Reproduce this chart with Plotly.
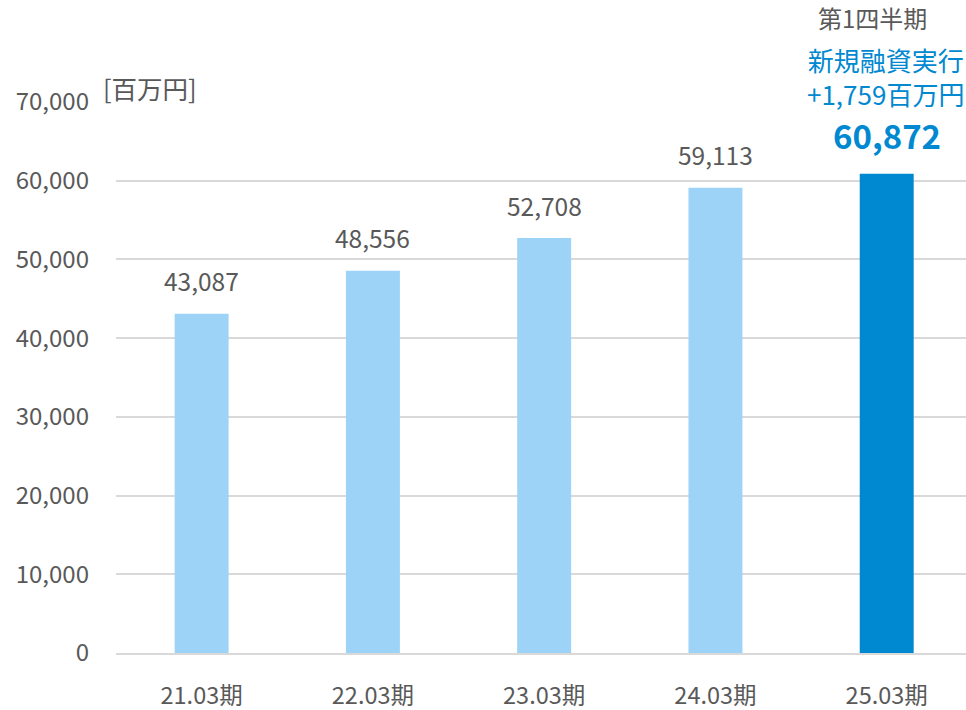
import plotly.graph_objects as go

# Loan balance by fiscal period (millions of yen)
periods = ["21.03期", "22.03期", "23.03期", "24.03期", "25.03期"]
balances = [43087, 48556, 52708, 59113, 60872]
bar_colors = ["#9DD3F7", "#9DD3F7", "#9DD3F7", "#9DD3F7", "#0088D0"]
y_ticks = [0, 10000, 20000, 30000, 40000, 50000, 60000, 70000]

FONT = "Noto Sans CJK JP"
GRAY = "#595959"
BLUE = "#0088D0"

fig = go.Figure()
fig.add_trace(go.Bar(
    x=periods,
    y=balances,
    marker=dict(color=bar_colors, line=dict(width=0)),
    width=0.315,
    hoverinfo="skip",
))

annotations = []
for i, (p, v) in enumerate(zip(periods, balances)):
    last = i == len(periods) - 1
    annotations.append(dict(
        x=p, y=v, xref="x", yref="y",
        text=f"<b>{v:,}</b>" if last else f"{v:,}",
        showarrow=False,
        yshift=39 if last else 33,
        font=dict(family=FONT, size=33 if last else 24.5, color=BLUE if last else GRAY),
    ))

# Notes above the latest bar
annotations += [
    dict(x=periods[-1], y=balances[-1], xref="x", yref="y",
         text="新規融資実行<br>+1,759百万円",
         showarrow=False, yshift=97, xshift=-1,
         font=dict(family=FONT, size=26, color=BLUE)),
    dict(x=periods[-1], y=balances[-1], xref="x", yref="y", text="第1四半期",
         showarrow=False, yshift=156, xshift=-14,
         font=dict(family=FONT, size=24, color=GRAY)),
    dict(x=0, y=1, xref="paper", yref="paper", text="[百万円]",
         showarrow=False, xanchor="left", yanchor="bottom", xshift=-15, yshift=-6,
         font=dict(family=FONT, size=25.5, color=GRAY)),
]

fig.update_layout(
    width=966, height=710,
    margin=dict(l=116, r=0, t=102, b=57),
    paper_bgcolor="white",
    plot_bgcolor="white",
    showlegend=False,
    font=dict(family=FONT, color=GRAY, size=24),
    annotations=annotations,
    xaxis=dict(
        range=[-0.5, 4.463],
        showgrid=False,
        showline=True, linecolor="#D9D9D9", linewidth=2,
        ticks="", ticklabelstandoff=21,
        tickfont=dict(family=FONT, size=23.5, color=GRAY),
        fixedrange=True,
    ),
    yaxis=dict(
        range=[0, 70000],
        tickvals=y_ticks,
        ticktext=[f"{t:,}" for t in y_ticks],
        showgrid=True, gridcolor="#D9D9D9", gridwidth=2,
        zeroline=False, showline=False,
        ticks="", ticklabelstandoff=26,
        tickfont=dict(family=FONT, size=24, color=GRAY),
        fixedrange=True,
    ),
)

fig.write_html("out.html", config={"displayModeBar": False})
